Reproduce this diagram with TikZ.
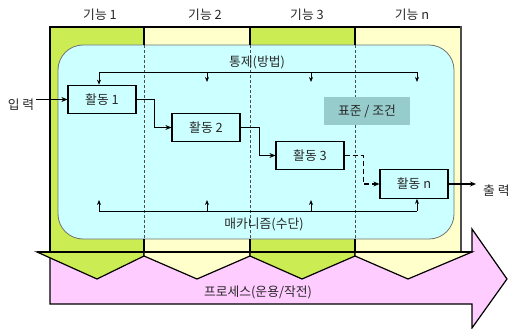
\documentclass[tikz,border=0pt]{standalone}
\usepackage{fontspec}
\setmainfont{Noto Sans CJK KR}
\usetikzlibrary{arrows.meta}
\definecolor{lanegreen}{RGB}{204,236,84}
\definecolor{laneyellow}{RGB}{255,255,204}
\definecolor{innercyan}{RGB}{204,255,255}
\definecolor{procpink}{RGB}{255,204,255}
\definecolor{stdbox}{RGB}{150,204,204}
\definecolor{txtgray}{RGB}{40,40,40}
\tikzset{
  actbox/.style={draw=black, line width=1.2pt, fill=innercyan, minimum width=68pt, minimum height=28.5pt, inner sep=0pt, font=\fontsize{12.8}{14}\selectfont, text=txtgray},
  lbl/.style={font=\fontsize{12.8}{14}\selectfont, text=txtgray, inner sep=0pt},
  arr/.style={line width=1.2pt, -{Stealth[length=6pt,width=5pt]}},
  ctl/.style={line width=0.9pt},
  ctlarr/.style={line width=0.9pt, -{Stealth[length=5pt,width=4pt]}},
  lanediv/.style={densely dashed, line width=0.5pt, draw=black!70},
  chev/.style={draw=black, line width=1.2pt, line join=miter},
}
\begin{document}
\begin{tikzpicture}[x=1pt,y=-1pt]
\useasboundingbox (0,0) rectangle (509,329);
% lanes
\fill[lanegreen] (50,27) rectangle (144,252);
\fill[laneyellow] (144,27) rectangle (250,252);
\fill[lanegreen] (250,27) rectangle (355,252);
\fill[laneyellow] (355,27) rectangle (461,252);
% process arrow
\draw[chev, fill=procpink] (50,252) -- (472,252) -- (472,229) -- (507,279) -- (472,328) -- (472,304) -- (50,304) -- cycle;
% chevrons
\draw[chev, fill=lanegreen] (37,252) -- (144,252) -- (144,256) -- (97,279) -- cycle;
\draw[chev, fill=laneyellow] (144,256) -- (144,252) -- (250,252) -- (250,256) -- (197,279) -- cycle;
\draw[chev, fill=lanegreen] (250,256) -- (250,252) -- (355,252) -- (355,256) -- (302,279) -- cycle;
\draw[chev, fill=laneyellow] (355,256) -- (355,252) -- (472,252) -- (408,279) -- cycle;
% frame
\draw[line width=1.4pt] (50,252) -- (50,27) -- (461,27);
\draw[line width=2.2pt, draw=black!70] (461,26) -- (461,252);
\draw[line width=1.4pt] (37,252) -- (472,252);
% inner rounded region
\draw[draw=black!55, line width=0.8pt, fill=innercyan, rounded corners=25pt] (58,45) rectangle (454,239);
% lane dividers
\foreach \x in {144,250,355} {
  \draw[line width=1.2pt] (\x,27) -- (\x,45);
  \draw[line width=1.2pt] (\x,239) -- (\x,252);
  \draw[lanediv] (\x,45) -- (\x,239);
}
% titles
\node[lbl] (t1) at (100,15) {기능 1};
\node[lbl] (t2) at (205,15) {기능 2};
\node[lbl] (t3) at (307,15) {기능 3};
\node[lbl] (t4) at (412,15) {기능 n};
% standard box
\node[fill=stdbox, minimum width=86pt, minimum height=28pt, inner sep=0pt, font=\fontsize{12.8}{14}\selectfont, text=txtgray] (std) at (367,111) {표준 / 조건};
% activities
\node[actbox] (a1) at (102,99.5) {활동 1};
\node[actbox] (a2) at (206,127.5) {활동 2};
\node[actbox] (a3) at (310,155.5) {활동 3};
\node[actbox] (an) at (414,184) {활동 n};
% flow
\node[lbl] (in) at (21,105) {입 력};
\coordinate (inS) at (36,99.5);
\draw[arr] (inS) -- (a1.west);
\draw[arr] (a1.east) -- ++(18,0) |- (a2.west);
\draw[arr] (a2.east) -- ++(19,0) |- (a3.west);
\draw[arr, dash pattern=on 5pt off 3pt] (a3.east) -- ++(19,0) |- (an.west);
\coordinate (outE) at (476,184);
\draw[arr] (an.east) -- (outE);
\node[lbl, anchor=west] (out) at (483,191) {출 력};
% control
\node[lbl] (ctl) at (257,62) {통제(방법)};
\coordinate (c1) at (99,72);
\coordinate (c2) at (207,72);
\coordinate (c3) at (311,72);
\coordinate (c4) at (417,72);
\coordinate (c2e) at (207,82);
\coordinate (c3e) at (311,82);
\coordinate (c4e) at (417,82);
\draw[ctl] (c1) -- (c4);
\draw[ctlarr] (c1) -- (a1.north -| c1);
\draw[ctlarr] (c2) -- (c2e);
\draw[ctlarr] (c3) -- (c3e);
\draw[ctlarr] (c4) -- (c4e);
% mechanism
\node[lbl] (mech) at (264,224) {매카니즘(수단)};
\coordinate (m1) at (99,211);
\coordinate (m2) at (207,211);
\coordinate (m3) at (311,211);
\coordinate (m4) at (417,211);
\coordinate (m1e) at (99,200);
\coordinate (m2e) at (207,200);
\coordinate (m3e) at (311,200);
\draw[ctl] (m1) -- (m4);
\draw[ctlarr] (m1) -- (m1e);
\draw[ctlarr] (m2) -- (m2e);
\draw[ctlarr] (m3) -- (m3e);
\draw[ctlarr] (m4) -- (an.south -| m4);
% process label
\node[lbl] (proc) at (258,292) {프로세스(운용/작전)};
\end{tikzpicture}
\end{document}
